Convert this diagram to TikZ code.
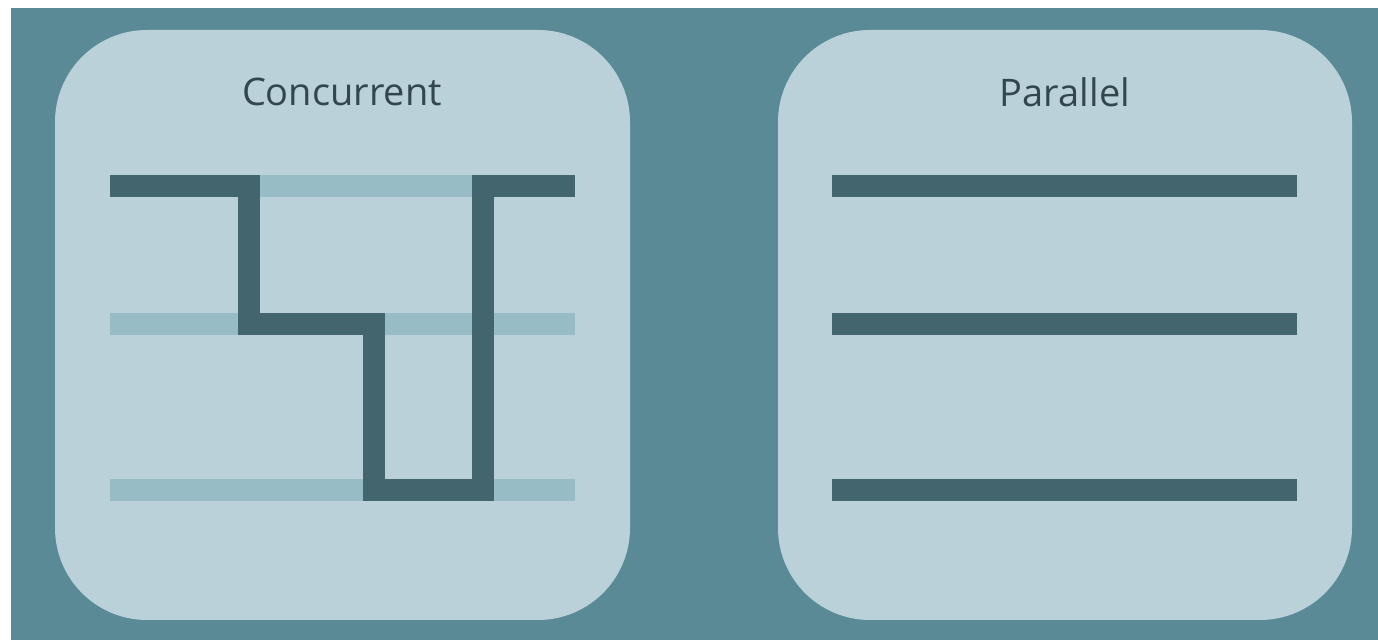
\documentclass[tikz,border=0pt]{standalone}
\usepackage{fontspec}
\setmainfont{Open Sans}
\usetikzlibrary{positioning}
\definecolor{fondo}{HTML}{5A8A96}
\definecolor{panelAzul}{HTML}{BAD1D9}
\definecolor{hiloOscuro}{HTML}{42656E}
\definecolor{hiloClaro}{HTML}{98BCC5}
\definecolor{textoOscuro}{HTML}{33464D}

\begin{document}
\begin{tikzpicture}[x=0.5pt, y=-0.5pt,
        panel/.style={fill=panelAzul, rounded corners=46pt},
        titulo/.style={font=\fontsize{19}{23}\selectfont, text=textoOscuro, anchor=center},
        carril/.style={line width=11pt, line cap=butt, draw=hiloClaro},
        hilo/.style={line width=11pt, line cap=butt, line join=miter, draw=hiloOscuro}]

        % Fondo
        \useasboundingbox (0,0) rectangle (1378,640);
        \fill[white] (0,0) rectangle (1378,640);
        \fill[fondo] (11,8) rectangle (1378,640);

        % Paneles
        \fill[panel] (55,30) rectangle (630,620);
        \fill[panel] (778,30) rectangle (1352,620);

        % Titulos
        \node[titulo] (conc) at (342,92) {Concurrent};
        \node[titulo] (para) at (1065,92) {Parallel};

        % Concurrente: carriles y un solo hilo
        \foreach \y in {186,324,490}
            \draw[carril] (110,\y) -- (575,\y);
        \draw[hilo] (110,186) -- (249,186) -- (249,324) -- (374,324)
            -- (374,490) -- (483,490) -- (483,186) -- (575,186);

        % Paralelo: tres hilos
        \foreach \y in {186,324,490}
            \draw[hilo] (832,\y) -- (1297,\y);
    \end{tikzpicture}
\end{document}
